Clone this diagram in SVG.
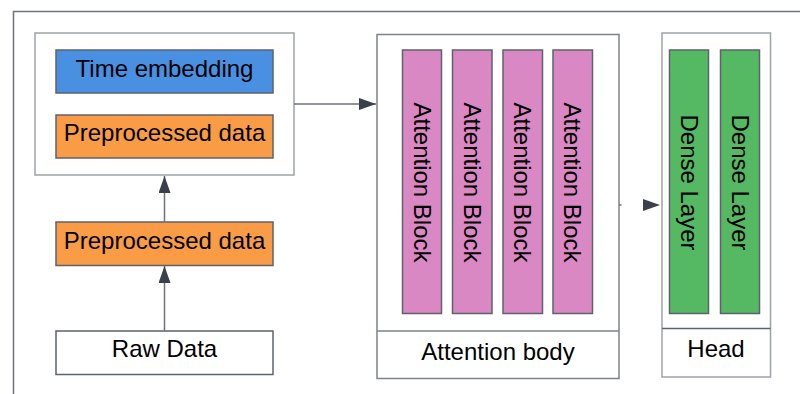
<svg xmlns="http://www.w3.org/2000/svg" width="800" height="394" viewBox="0 0 800 394">
<defs>
<marker id="ah" viewBox="0 0 17 12" refX="17" refY="6" markerWidth="17" markerHeight="12" markerUnits="userSpaceOnUse" orient="auto">
<path d="M0,0 L17,6 L0,12 Z" fill="#3a414b"/>
</marker>
<style>
.t{font-family:"Liberation Sans",Arial,sans-serif;font-size:24px;fill:#000;text-anchor:middle}
.box{stroke:#5c636d;stroke-width:1.5}
.cont{fill:#fff;stroke:#9ea3a9;stroke-width:1.5}
.cont2{fill:#fff;stroke:#7d838b;stroke-width:1.5}
.blue{fill:#4a90e2}
.orange{fill:#f99c45}
.pink{fill:#da88c3}
.green{fill:#55b862}
.white{fill:#fff}
.con{fill:none;stroke:#6c7179;stroke-width:1.5}
</style>
</defs>
<rect x="13.5" y="11.5" width="900" height="500" fill="none" stroke="#6e737a" stroke-width="1.5"/>

<g id="input-container">
<rect class="cont" x="35" y="33" width="259" height="142"/>
</g>
<g id="time-embedding">
<rect class="box blue" x="56" y="50" width="217" height="43"/>
<text class="t" x="164.5" y="76.5">Time embedding</text>
</g>
<g id="preprocessed-data-1">
<rect class="box orange" x="56" y="115" width="217" height="43"/>
<text class="t" x="164.5" y="141">Preprocessed data</text>
</g>
<g id="preprocessed-data-2">
<rect class="box orange" x="56" y="222" width="217" height="43.5"/>
<text class="t" x="164.5" y="249">Preprocessed data</text>
</g>
<g id="raw-data">
<rect class="box white" x="56" y="331" width="217" height="43.5"/>
<text class="t" x="164.5" y="357">Raw Data</text>
</g>

<g id="attention-body">
<rect class="cont2" x="377" y="34.5" width="242" height="344"/>
<line x1="377" y1="331" x2="619" y2="331" stroke="#7d838b" stroke-width="1.5"/>
<text class="t" x="498" y="360">Attention body</text>
</g>
<g id="attention-block-1">
<rect class="box pink" x="402.5" y="50" width="39" height="263.5"/>
<text class="t" transform="translate(414.3,182.5) rotate(90)">Attention Block</text>
</g>
<g id="attention-block-2">
<rect class="box pink" x="452.5" y="50" width="39.5" height="263.5"/>
<text class="t" transform="translate(464.3,182.5) rotate(90)">Attention Block</text>
</g>
<g id="attention-block-3">
<rect class="box pink" x="503" y="50" width="39.5" height="263.5"/>
<text class="t" transform="translate(514.3,182.5) rotate(90)">Attention Block</text>
</g>
<g id="attention-block-4">
<rect class="box pink" x="553" y="50" width="39.5" height="263.5"/>
<text class="t" transform="translate(564.3,182.5) rotate(90)">Attention Block</text>
</g>

<g id="head">
<rect class="cont" x="662" y="33" width="108.5" height="344"/>
<line x1="662" y1="328.5" x2="770.5" y2="328.5" stroke="#5c636d" stroke-width="1.5"/>
<text class="t" x="716" y="357">Head</text>
</g>
<g id="dense-layer-1">
<rect class="box green" x="669.5" y="50" width="39" height="263.5"/>
<text class="t" transform="translate(680.5,182.5) rotate(90)">Dense Layer</text>
</g>
<g id="dense-layer-2">
<rect class="box green" x="720.5" y="50" width="39" height="263.5"/>
<text class="t" transform="translate(731.5,182.5) rotate(90)">Dense Layer</text>
</g>

<g id="connectors">
<line class="con" x1="164.5" y1="331" x2="164.5" y2="266" marker-end="url(#ah)"/>
<line class="con" x1="164.5" y1="222" x2="164.5" y2="176" marker-end="url(#ah)"/>
<line class="con" x1="294" y1="104" x2="376" y2="104" marker-end="url(#ah)"/>
<line class="con" x1="619" y1="205" x2="660" y2="205" stroke-dasharray="2.5 1000" marker-end="url(#ah)"/>
</g>
</svg>
